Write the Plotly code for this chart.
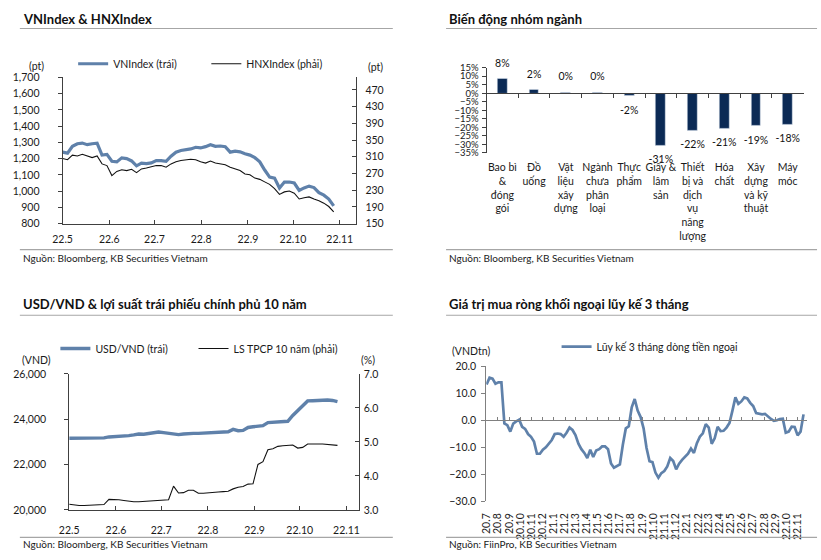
import plotly.graph_objects as go
import pandas as pd

W, H = 821, 560
FONT = "Lato"
BLUE = "#5f81aa"
NAVY = "#0b2a55"
AXIS = "#404040"
RULE = "#a6a6a6"

# ---------------- Panel 1: VNIndex & HNXIndex ----------------
vn_index = [1240, 1234, 1276, 1292, 1296, 1286, 1292, 1295, 1222, 1226,
            1184, 1180, 1205, 1200, 1186, 1156, 1172, 1170, 1174, 1188,
            1188, 1184, 1215, 1240, 1250, 1255, 1260, 1270, 1266, 1274,
            1286, 1276, 1278, 1274, 1240, 1246, 1242, 1230, 1222, 1206,
            1180, 1130, 1086, 1080, 1019, 1056, 1056, 1050, 1005, 1020,
            1031, 1022, 991, 975, 951, 909]
hnx_index = [306, 303, 314, 312, 316, 312, 308, 312, 293, 289,
             265, 275, 279, 277, 280, 272, 281, 283, 286, 289,
             289, 285, 293, 298, 301, 303, 304, 303, 298, 295,
             300, 295, 293, 291, 285, 281, 277, 269, 267, 259,
             256, 250, 244, 234, 220, 226, 228, 223, 209, 212,
             214, 209, 205, 199, 191, 178]
p1_start, p1_end = "2022-05-01", "2022-10-28"
months_2022 = ["22.5", "22.6", "22.7", "22.8", "22.9", "22.10", "22.11"]

# ---------------- Panel 2: sector change ----------------
sectors = ["Bao bì<br>&<br>đóng<br>gói", "Đồ<br>uống", "Vật<br>liệu<br>xây<br>dựng",
           "Ngành<br>chưa<br>phân<br>loại", "Thực<br>phẩm", "Giấy &<br>lâm<br>sản",
           "Thiết<br>bị và<br>dịch<br>vụ<br>năng<br>lượng", "Hóa<br>chất",
           "Xây<br>dựng<br>và kỹ<br>thuật", "Máy<br>móc"]
sector_change = [8.3, 1.9, 0.2, 0.2, -1.6, -30.8, -21.9, -20.8, -19.3, -18.3]

# ---------------- Panel 3: USD/VND & 10Y yield ----------------
usd_vnd = [23164, 23164, 23164, 23170, 23178, 23185, 23192, 23180, 23221, 23230,
           23236, 23260, 23279, 23310, 23351, 23340, 23380, 23410, 23437, 23410,
           23380, 23337, 23322, 23350, 23380, 23380, 23380, 23390, 23394, 23400,
           23409, 23430, 23452, 23553, 23495, 23510, 23639, 23670, 23696, 23720,
           23855, 23860, 23869, 23880, 23912, 24170, 24390, 24620, 24810, 24819,
           24830, 24848, 24848, 24830, 24780]
bond_yield = [3.17, 3.14, 3.13, 3.13, 3.14, 3.14, 3.15, 3.16, 3.31, 3.31,
              3.30, 3.28, 3.25, 3.24, 3.24, 3.25, 3.26, 3.28, 3.29, 3.30,
              3.30, 3.70, 3.50, 3.51, 3.58, 3.58, 3.49, 3.49, 3.51, 3.52,
              3.53, 3.54, 3.55, 3.62, 3.67, 3.69, 3.76, 3.77, 4.34, 4.42,
              4.77, 4.80, 4.87, 4.89, 4.91, 4.91, 4.82, 4.84, 4.94, 4.95,
              4.94, 4.94, 4.92, 4.91, 4.90]
p3_start, p3_end = "2022-05-01", "2022-10-26"

# ---------------- Panel 4: foreign net buying (3M cumulative) ----------------
foreign_flow = [13.3, 15.8, 15.5, 13.6, 14.1, 14.1, -1.2, -1.8, -4.2, -1.2,
                -0.4, 0.2, -2.4, -3.2, -5.1, -6.1, -7.9, -12.4, -12.4, -10.9,
                -10.0, -8.7, -7.3, -5.1, -4.9, -5.1, -6.1, -4.6, -2.7, -3.6,
                -5.5, -8.7, -10.7, -12.1, -14.0, -10.9, -13.6, -11.2, -10.7, -9.7,
                -9.7, -10.7, -16.0, -17.6, -17.0, -16.4, -9.1, -3.0, -2.2, 4.8,
                7.9, 3.6, 1.2, -3.0, -10.3, -15.2,
                -15.5, -19.4, -21.3, -19.6, -18.8, -17.1, -14.0, -15.1, -18.2, -16.1,
                -14.7, -13.7, -12.4, -10.5, -12.1, -8.5, -6.1, -4.8, -1.4, -2.7,
                -8.7, -6.7, -2.4, -4.0, -3.9, -2.7, -1.0, 3.6, 8.5, 6.1,
                7.0, 8.5, 8.1, 6.5, 5.3, 2.7, 2.4, 2.2, 2.4, 1.3,
                0.5, -0.2, 0.0, 0.5, 0.6, -4.6, -4.2, -2.4, -2.5, -5.6,
                -4.2, 2.2]
p4_start, p4_end = "2020-07-01", "2022-11-17"
flow_months = ["20.7", "20.8", "20.9", "20.10", "20.11", "20.12",
               "21.1", "21.2", "21.3", "21.4", "21.5", "21.6", "21.7", "21.8", "21.9",
               "21.10", "21.11", "21.12",
               "22.1", "22.2", "22.3", "22.4", "22.5", "22.6", "22.7", "22.8", "22.9",
               "22.10", "22.11"]


def month_start(label):
    yy, mm = label.split(".")
    return f"20{yy}-{int(mm):02d}-01"


def px(x):
    return x / W


def py(y):
    return 1 - y / H


p1_dates = pd.date_range(p1_start, p1_end, periods=len(vn_index))
p3_dates = pd.date_range(p3_start, p3_end, periods=len(usd_vnd))
p4_dates = pd.date_range(p4_start, p4_end, periods=len(foreign_flow))

fig = go.Figure()

# Panel 1 traces
fig.add_trace(go.Scatter(x=p1_dates, y=vn_index, mode="lines", name="VNIndex (trái)",
                         line=dict(color=BLUE, width=3.2), xaxis="x", yaxis="y", legend="legend"))
fig.add_trace(go.Scatter(x=p1_dates, y=hnx_index, mode="lines", name="HNXIndex (phải)",
                         line=dict(color="#111111", width=1.1), xaxis="x", yaxis="y2", legend="legend4"))

# Panel 2 traces
fig.add_trace(go.Bar(x=sectors, y=sector_change, marker_color=NAVY, width=0.31,
                     xaxis="x3", yaxis="y3", showlegend=False, hoverinfo="skip"))
fig.add_trace(go.Scatter(x=sectors, y=sector_change, mode="markers+text",
                         marker=dict(size=14, opacity=0),
                         text=[f"{round(v)}%" for v in sector_change],
                         textposition=["top center" if v >= 0 else "bottom center" for v in sector_change],
                         textfont=dict(family=FONT, size=10.5, color="#111111"), cliponaxis=False,
                         xaxis="x3", yaxis="y3", showlegend=False, hoverinfo="skip"))
fig.add_trace(go.Scatter(x=sectors, y=sector_change, mode="none", xaxis="x8", yaxis="y3",
                         showlegend=False, hoverinfo="skip"))

# Panel 3 traces
fig.add_trace(go.Scatter(x=p3_dates, y=usd_vnd, mode="lines", name="USD/VND (trái)",
                         line=dict(color=BLUE, width=3.4), xaxis="x4", yaxis="y4", legend="legend2"))
fig.add_trace(go.Scatter(x=p3_dates, y=bond_yield, mode="lines", name="LS TPCP 10 năm (phải)",
                         line=dict(color="#111111", width=1.1), xaxis="x4", yaxis="y5", legend="legend5"))

# Panel 4 traces
fig.add_trace(go.Scatter(x=p4_dates, y=foreign_flow, mode="lines", name="Lũy kế 3 tháng dòng tiền ngoại",
                         line=dict(color=BLUE, width=2.7), xaxis="x6", yaxis="y6", legend="legend3"))
fig.add_trace(go.Scatter(x=p4_dates, y=foreign_flow, mode="none", xaxis="x7", yaxis="y6",
                         showlegend=False, hoverinfo="skip"))

tickfont = dict(family=FONT, size=10.5, color="#1a1a1a")
common_x = dict(showgrid=False, zeroline=False, tickfont=tickfont)
common_y = dict(showgrid=False, zeroline=False, tickfont=tickfont, showline=True,
                linecolor=AXIS, linewidth=1, ticks="outside", ticklen=4, tickcolor=AXIS)
right_y = {**common_y, "ticks": "inside"}

legend_common = dict(orientation="h", xanchor="left", yanchor="middle", bgcolor="rgba(0,0,0,0)",
                     font=dict(family=FONT, size=10.5, color="#1a1a1a"), itemwidth=30,
                     tracegroupgap=0, itemclick=False, itemdoubleclick=False)

fig.update_layout(
    width=W, height=H, margin=dict(l=0, r=0, t=0, b=0),
    paper_bgcolor="white", plot_bgcolor="white",
    font=dict(family=FONT, size=10.5, color="#1a1a1a"),
    bargap=0,
    # Panel 1
    xaxis=dict(domain=[px(53.3), px(351)], anchor="y", type="date",
               range=["2022-05-01", "2022-11-12"],
               tickvals=[month_start(m) for m in months_2022], ticktext=months_2022,
               showline=True, linecolor=AXIS, ticks="inside", ticklen=4, tickcolor=AXIS,
               ticklabelstandoff=6, **common_x),
    yaxis=dict(domain=[py(222.4), py(73)], anchor="x", range=[800, 1700], dtick=100,
               tickformat=",", ticklabelstandoff=16, **common_y),
    yaxis2=dict(overlaying="y", side="right", anchor="x", range=[150, 500], tick0=150, dtick=40,
                ticklabelstandoff=6, **right_y),
    # Panel 2
    xaxis3=dict(domain=[px(483), px(804.3)], anchor="y3", type="category", range=[-0.5, 9.5],
                showline=False, ticks="", ticklabelstandoff=7, **common_x),
    xaxis8=dict(overlaying="x3", anchor="free", position=py(89.3), type="category",
                range=[-0.5, 9.5], showline=True, linecolor=AXIS, tickson="boundaries",
                ticks="outside", ticklen=4, tickcolor=AXIS, showticklabels=False,
                showgrid=False, zeroline=False),
    yaxis3=dict(domain=[py(150), py(63)], anchor="x3", range=[-35, 15], dtick=5,
                ticksuffix="%", ticklabelstandoff=1,
                **{**common_y, "tickfont": dict(family=FONT, size=9.5, color="#1a1a1a")}),
    # Panel 3
    xaxis4=dict(domain=[px(60), px(353.3)], anchor="y4", type="date",
                range=["2022-05-01", "2022-11-09"],
                tickvals=[month_start(m) for m in months_2022], ticktext=months_2022,
                showline=True, linecolor=AXIS, ticks="inside", ticklen=4, tickcolor=AXIS,
                ticklabelstandoff=10, **common_x),
    yaxis4=dict(domain=[py(515), py(376)], anchor="x4", range=[20000, 26000], dtick=2000,
                tickformat=",", ticklabelstandoff=16, **common_y),
    yaxis5=dict(overlaying="y4", side="right", anchor="x4", range=[3, 7], dtick=1,
                tickformat=".1f", ticklabelstandoff=2, **right_y),
    # Panel 4
    xaxis6=dict(domain=[px(482.7), px(808)], anchor="y6", type="date",
                range=["2020-06-30", "2022-11-27"],
                tickvals=[month_start(m) for m in flow_months], ticktext=flow_months,
                tickangle=-90, showline=False, ticks="", ticklabelstandoff=9, **common_x),
    xaxis7=dict(overlaying="x6", anchor="free", position=py(423.3), type="date",
                range=["2020-06-30", "2022-11-27"],
                tickvals=[month_start(m) for m in flow_months[1:]],
                showline=True, linecolor="#808080", ticks="inside", ticklen=3, tickcolor="#808080",
                showticklabels=False, showgrid=False, zeroline=False),
    yaxis6=dict(domain=[py(506), py(368.3)], anchor="x6", range=[-30, 20], dtick=10,
                tickformat=".1f", ticklabelstandoff=3,
                **{**common_y, "linecolor": "#808080", "tickcolor": "#808080"}),
    legend=dict(x=px(64), y=py(59), **legend_common),
    legend4=dict(x=px(199), y=py(59), **legend_common),
    legend2=dict(x=px(46), y=py(350), **legend_common),
    legend5=dict(x=px(186), y=py(350), **legend_common),
    legend3=dict(x=px(554), y=py(348), **legend_common),
)

# Titles, rules, sources, unit labels
titles = [("VNIndex & HNXIndex", 11, 13), ("Biến động nhóm ngành", 443, 13),
          ("USD/VND & lợi suất trái phiếu chính phủ 10 năm", 11, 305),
          ("Giá trị mua ròng khối ngoại lũy kế 3 tháng", 443, 305)]
for text, x, y in titles:
    fig.add_annotation(text=f"<b>{text}</b>", x=px(x), y=py(y), xref="paper", yref="paper",
                       xanchor="left", yanchor="middle", showarrow=False,
                       font=dict(family=FONT, size=13, color="#111111"))

rules = [(10, 388, 23), (442, 818, 23), (10, 388, 249), (442, 818, 249),
         (10, 388, 316), (442, 818, 316), (10, 388, 543), (442, 818, 543)]
for x0, x1, y in rules:
    fig.add_shape(type="line", x0=px(x0), x1=px(x1), y0=py(y), y1=py(y), xref="paper", yref="paper",
                  line=dict(color=RULE, width=1.2))

sources = [("Nguồn: Bloomberg, KB Securities Vietnam", 11, 258),
           ("Nguồn: Bloomberg, KB Securities Vietnam", 443, 258),
           ("Nguồn: Bloomberg, KB Securities Vietnam", 11, 550),
           ("Nguồn: FiinPro, KB Securities Vietnam", 443, 550)]
for text, x, y in sources:
    fig.add_annotation(text=text, x=px(x), y=py(y), xref="paper", yref="paper",
                       xanchor="left", yanchor="middle", showarrow=False,
                       font=dict(family=FONT, size=10, color="#1a1a1a"))

units = [("(pt)", 27, 61), ("(pt)", 370, 62), ("(VND)", 27, 362), ("(%)", 363, 362),
         ("(VNDtn)", 467, 353)]
for text, x, y in units:
    fig.add_annotation(text=text, x=px(x), y=py(y), xref="paper", yref="paper",
                       xanchor="center", yanchor="middle", showarrow=False,
                       font=dict(family=FONT, size=10.5, color="#1a1a1a"))

fig.write_html("out.html", config={"displayModeBar": False},
               post_script="document.body.style.margin='0';")
